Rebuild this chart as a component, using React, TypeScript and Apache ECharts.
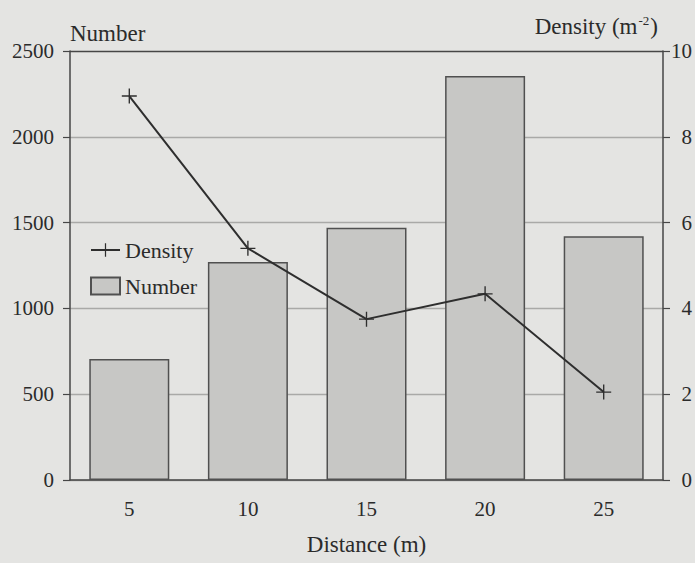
import React, { useEffect, useRef } from "react";
import * as echarts from "echarts";

const categories = ["5", "10", "15", "20", "25"];
const numberValues = [705, 1270, 1470, 2355, 1420];
const densityValues = [8.95, 5.4, 3.75, 4.34, 2.05];
const leftTicks = { min: 0, max: 2500, interval: 500 };
const rightTicks = { min: 0, max: 10, interval: 2 };

const FONT = "'Liberation Serif', 'Times New Roman', serif";
const TEXT = "#2b2b2b";
const AXIS = "#464646";
const BG = "#e4e4e2";

export default function App() {
  const ref = useRef<HTMLDivElement>(null);
  useEffect(() => {
    if (!ref.current) return;
    const chart = echarts.init(ref.current, null, { renderer: "svg" });
    const plus = "path://M-1,-0.09H1V0.09H-1Z M-0.09,-1H0.09V1H-0.09Z";
    const plain = (v: number) => String(v);
    chart.setOption({
      animation: false,
      backgroundColor: BG,
      textStyle: { fontFamily: FONT, color: TEXT },
      grid: { left: 70, right: 32, top: 51, bottom: 83, outerBoundsMode: "none", containLabel: false },
      legend: {
        left: 85,
        top: 234,
        orient: "vertical",
        itemWidth: 29,
        itemHeight: 17,
        itemGap: 14,
        data: [{ name: "Density" }, { name: "Number", icon: "rect" }],
        textStyle: { fontFamily: FONT, fontSize: 22, color: TEXT },
      },
      xAxis: {
        type: "category",
        data: categories,
        name: "Distance (m)",
        nameLocation: "middle",
        nameGap: 53,
        nameTextStyle: { fontFamily: FONT, fontSize: 23, color: TEXT },
        axisLine: { lineStyle: { color: AXIS, width: 1.5 } },
        axisTick: { alignWithLabel: true, length: 8, lineStyle: { color: AXIS, width: 1.2 } },
        axisLabel: { fontFamily: FONT, fontSize: 21, color: TEXT, margin: 18 },
      },
      yAxis: [
        {
          type: "value",
          min: leftTicks.min,
          max: leftTicks.max,
          interval: leftTicks.interval,
          name: "Number",
          nameLocation: "end",
          nameGap: 6,
          nameTextStyle: { fontFamily: FONT, fontSize: 23, color: TEXT, align: "left" },
          axisLine: { show: true, lineStyle: { color: AXIS, width: 1.5 } },
          axisTick: { show: true, length: 7, lineStyle: { color: AXIS, width: 1.2 } },
          axisLabel: { fontFamily: FONT, fontSize: 21, color: TEXT, margin: 16, formatter: plain },
          splitLine: {
            show: true,
            lineStyle: {
              color: ["#a9a9a7", "#a9a9a7", "#a9a9a7", "#a9a9a7", "#a9a9a7", AXIS],
              width: 1.3,
            },
          },
        },
        {
          type: "value",
          min: rightTicks.min,
          max: rightTicks.max,
          interval: rightTicks.interval,
          position: "right",
          name: "Density (m{s|-2})",
          nameLocation: "end",
          nameGap: 13,
          nameTextStyle: {
            fontFamily: FONT,
            fontSize: 23,
            color: TEXT,
            align: "right",
            padding: [0, 5, 0, 0],
            rich: {
              s: { fontFamily: FONT, fontSize: 13, color: TEXT, verticalAlign: "top", padding: [0, 1, 11, 1] },
            },
          },
          axisLine: { show: true, lineStyle: { color: AXIS, width: 1.5 } },
          axisTick: { show: true, length: 7, lineStyle: { color: AXIS, width: 1.2 } },
          axisLabel: {
            fontFamily: FONT,
            fontSize: 21,
            color: TEXT,
            margin: 29,
            align: "right",
            formatter: plain,
          },
          splitLine: { show: false },
        },
      ],
      series: [
        {
          name: "Number",
          type: "bar",
          yAxisIndex: 0,
          data: numberValues,
          barWidth: 80,
          itemStyle: { color: "#c7c7c5", borderColor: "#505050", borderWidth: 1.5 },
          z: 2,
        },
        {
          name: "Density",
          type: "line",
          yAxisIndex: 1,
          data: densityValues,
          symbol: plus,
          symbolSize: 15,
          lineStyle: { color: "#2e2e2e", width: 2 },
          itemStyle: { color: "#2e2e2e" },
          z: 3,
        },
      ],
    });
    return () => chart.dispose();
  }, []);
  return (
    <div
      ref={ref}
      style={{ position: "fixed", left: 0, top: 0, width: 695, height: 563, background: BG }}
    />
  );
}
